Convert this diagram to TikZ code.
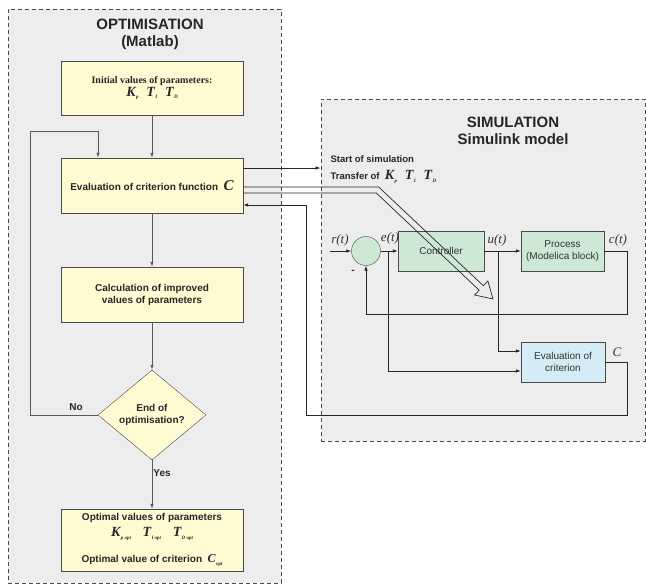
\documentclass[tikz,border=0pt]{standalone}
\usepackage{fontspec}
\setmainfont{Liberation Sans}
\newfontfamily\serif{Liberation Serif}
\usetikzlibrary{arrows.meta,shapes.geometric,calc}

\definecolor{panelgray}{HTML}{EDEDED}
\definecolor{optyellow}{HTML}{FFFAD2}
\definecolor{simgreen}{HTML}{CDE8D3}
\definecolor{simblue}{HTML}{D3ECF6}
\definecolor{edgegray}{HTML}{4A4A4A}

\newcommand{\param}[2]{{\serif\bfseries\itshape #1\kern.4pt\raisebox{-.45ex}{\fontsize{5}{5}\selectfont #2}}}

\tikzset{
	panel/.style={draw=edgegray, dash pattern=on 4pt off 3pt, fill=panelgray, line width=0.9pt, inner sep=0},
	title/.style={font=\fontsize{15}{17}\selectfont\bfseries, align=center, text=black!85},
	stepbox/.style={draw=edgegray, fill=optyellow, minimum width=182pt, minimum height=55pt, inner sep=0, align=center, font=\fontsize{10}{12}\selectfont\bfseries, text=black!85},
	decision/.style={diamond, draw=edgegray, fill=optyellow, minimum width=108pt, minimum height=90pt, inner sep=0, align=center, font=\fontsize{10}{12}\selectfont\bfseries, text=black!85},
	block/.style={draw=edgegray, minimum height=40pt, inner sep=0, align=center, font=\fontsize{10}{11.5}\selectfont, text=black!80},
	small/.style={font=\fontsize{10}{12}\selectfont\bfseries, text=black!85},
	sig/.style={font=\fontsize{13}{13}\selectfont\serif\itshape, text=black!80},
	flow/.style={draw=black!65, line width=0.8pt, -{Latex[length=5pt,width=3.5pt]}},
	wire/.style={draw=black!85, line width=0.7pt},
	link/.style={wire, -{Latex[length=5pt,width=3.5pt]}}
}

\begin{document}
\begin{tikzpicture}[x=1pt, y=-1pt]
	\useasboundingbox (0,0) rectangle (646,585);

	% panels
	\node[panel, minimum width=273pt, minimum height=574pt] (optbox) at (144.5,296) {};
	\node[panel, minimum width=324pt, minimum height=342pt] (simbox) at (483,270) {};
	\node[title] (opttitle) at (150,34) {OPTIMISATION\\(Matlab)};
	\node[title] (simtitle) at (513,131) {SIMULATION\\Simulink model};

	% optimisation loop
	\node[stepbox, minimum height=54pt] (init) at (152,88) {{\serif Initial values of parameters:}\\[1pt]{\fontsize{14}{14}\selectfont\param{K}{p}\ \ \param{T}{I}\ \ \param{T}{D}}};
	\node[stepbox] (evalc) at (152,185.5) {Evaluation of criterion function\ \ {\fontsize{15}{15}\selectfont\serif\itshape C}};
	\node[stepbox] (improve) at (152,294.5) {Calculation of improved\\values of parameters};
	\node[decision] (endopt) at (152,415) {End of\\optimisation?};
	\node[stepbox, minimum height=62pt] (optimal) at (152,540) {Optimal values of parameters\\[4pt]{\fontsize{14}{14}\selectfont\param{K}{p opt}\ \ \ \param{T}{I opt}\ \ \ \param{T}{D opt}}\\[14pt]Optimal value of criterion\ \ {\fontsize{12}{12}\selectfont\param{C}{opt}}};
	\node[small] (no) at (76,407) {No};
	\node[small] (yes) at (162,473) {Yes};
	\coordinate (loop) at (30,131);

	\draw[flow] (init) -- (evalc);
	\draw[flow] (evalc) -- (improve);
	\draw[flow] (improve) -- (endopt);
	\draw[flow] (endopt) -- (optimal);
	\draw[flow] (endopt.west) -| (loop) -| ([xshift=-54pt]evalc.north);

	% simulink model
	\node[circle, draw=edgegray, fill=simgreen, minimum size=29pt, inner sep=0] (sum) at (366,251) {};
	\node[block, fill=simgreen, minimum width=86pt] (ctrl) at (441,251) {Controller};
	\node[block, fill=simgreen, minimum width=83pt] (proc) at (562.5,251) {Process\\(Modelica block)};
	\node[block, fill=simblue, minimum width=84pt] (evalcrit) at (563,362) {Evaluation of\\criterion};
	\node[sig] (rlab) at (340,240) {r(t)};
	\node[sig] (elab) at (390,238) {e(t)};
	\node[sig] (ulab) at (497,240) {u(t)};
	\node[sig] (clab) at (618,240) {c(t)};
	\node[sig] (Clab) at (617,352) {C};
	\node[small] (minus) at (353,272) {-};
	\coordinate (rin) at (330,251);
	\coordinate (cback) at (306,415);

	\draw[link] (rin) -- (sum);
	\draw[link] (sum) -- (ctrl);
	\draw[link] (ctrl) -- (proc);
	\draw[link] (proc.east) -- ++(23,0) -- ++(0,63) -| (sum.south);
	\draw[link] ($(sum.east)!0.43!(ctrl.west)$) |- ([yshift=-9pt]evalcrit.west);
	\draw[link] ($(ctrl.east)!0.4!(proc.west)$) |- ([yshift=11pt]evalcrit.west);
	\draw[link] (evalcrit.east) -- ++(22,0) |- (cback) |- ([yshift=-19.5pt]evalc.east);

	% start and transfer
	\draw[link] ([yshift=17.5pt]evalc.east) -- ([yshift=17.5pt]evalc.east -| simbox.west);
	\node[small, anchor=west, font=\fontsize{9.5}{11}\selectfont\bfseries] (start) at (327,159) {Start of simulation};
	\node[small, anchor=west, font=\fontsize{9.5}{11}\selectfont\bfseries] (transfer) at (327,177) {Transfer of\ \ {\fontsize{14}{14}\selectfont\param{K}{p}\ \ \param{T}{I}\ \ \param{T}{D}}};
	\draw[wire] ([yshift=-1.5pt]evalc.east) -- (378.7,187) -- (483.4,285.8) -- (487.9,281) -- (493,299)
		-- (474.7,295) -- (479.2,290.2) -- (376.3,193) -- ([yshift=-7.5pt]evalc.east);

\end{tikzpicture}
\end{document}
